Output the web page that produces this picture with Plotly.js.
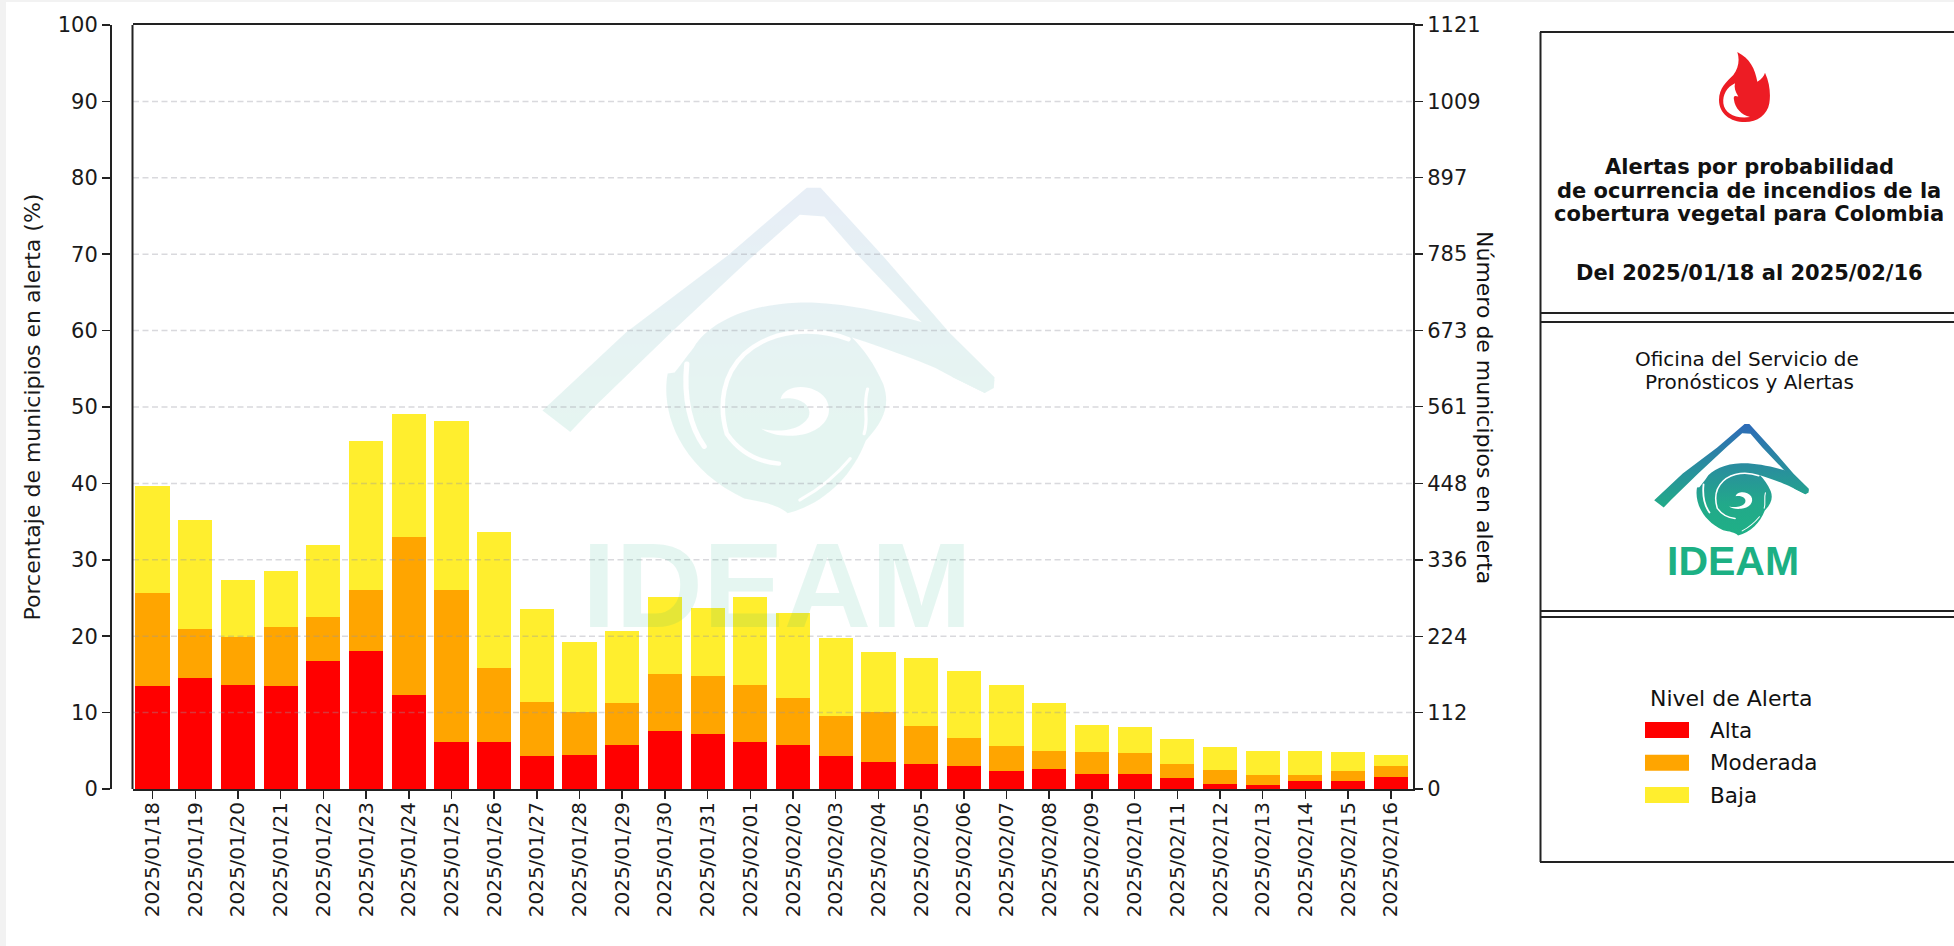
<!DOCTYPE html>
<html>
<head>
<meta charset="utf-8">
<script src="https://cdn.plot.ly/plotly-3.0.1.min.js"></script>
<style>html,body{margin:0;padding:0;background:#fff;overflow:hidden}#chart{width:1954px;height:946px}</style>
</head>
<body>
<div id="chart"></div>
<script>
const dates = ["2025/01/18","2025/01/19","2025/01/20","2025/01/21","2025/01/22","2025/01/23","2025/01/24","2025/01/25","2025/01/26","2025/01/27","2025/01/28","2025/01/29","2025/01/30","2025/01/31","2025/02/01","2025/02/02","2025/02/03","2025/02/04","2025/02/05","2025/02/06","2025/02/07","2025/02/08","2025/02/09","2025/02/10","2025/02/11","2025/02/12","2025/02/13","2025/02/14","2025/02/15","2025/02/16"];
const alta = [13.5,14.5,13.6,13.5,16.8,18.1,12.3,6.2,6.1,4.3,4.5,5.7,7.6,7.2,6.1,5.8,4.3,3.6,3.3,3.0,2.4,2.6,1.9,1.9,1.5,0.7,0.5,1.1,1.0,1.6];
const moderada = [12.2,6.5,6.3,7.7,5.7,7.9,20.7,19.9,9.7,7.1,5.6,5.6,7.5,7.6,7.5,6.1,5.2,6.5,4.9,3.7,3.2,2.4,2.9,2.8,1.8,1.8,1.3,0.7,1.4,1.4];
const baja = [14.0,14.2,7.5,7.4,9.5,19.6,16.1,22.1,17.9,12.2,9.2,9.4,10.0,8.9,11.5,11.1,10.3,7.8,8.9,8.8,8.0,6.2,3.6,3.4,3.2,3.0,3.2,3.2,2.5,1.5];
const pctTicks = [0,10,20,30,40,50,60,70,80,90,100];
const countTicks = [0,112,224,336,448,561,673,785,897,1009,1121];
const levelNames = ["Alta","Moderada","Baja"];
const levelColors = ["#ff0000","#ffa500","#ffee2e"];

const W = 1954, H = 946, L = 110, R = 1413, T = 25, B = 789;
const px = v => (v - L) / (R - L);
const py = v => (B - v) / (B - T);
const FONT = "DejaVu Sans";
const INK = "#222222";

function svgUri(s){ return "data:image/svg+xml;charset=utf-8," + encodeURIComponent(s); }

function logoSvg(){
  return `<svg xmlns="http://www.w3.org/2000/svg" width="660" height="500" viewBox="110 100 1320 995" preserveAspectRatio="none">
<defs>
<linearGradient id="g" x1="0" y1="100" x2="0" y2="1090" gradientUnits="userSpaceOnUse"><stop offset="0" stop-color="#2d69b8"/><stop offset="0.35" stop-color="#2a8aa0"/><stop offset="0.72" stop-color="#22a98a"/><stop offset="1" stop-color="#1fb086"/></linearGradient>
<mask id="m" maskUnits="userSpaceOnUse" x="0" y="0" width="1600" height="1200">
<rect x="0" y="0" width="1600" height="1200" fill="#fff"/>
<g fill="none" stroke="#000" stroke-linecap="round">
<path d="M535,640 C525,740 545,830 585,888" stroke-width="15"/>
<path d="M1000,565 C900,525 780,535 700,610 C640,670 625,760 650,850 C690,910 740,935 800,940" stroke-width="13"/>
<path d="M1055,715 C1040,770 1060,800 1045,850" stroke-width="9"/>
<path d="M1005,925 C970,970 920,1015 860,1050" stroke-width="9"/>
</g>
<path d="M805,745 C815,700 900,695 935,745 C965,800 915,850 850,855 C805,860 770,850 750,835 C790,845 860,845 885,800 C900,760 850,735 805,745Z" fill="#000"/>
</mask>
</defs>
<g mask="url(#m)" fill="url(#g)">
<path d="M120,780 L360,545 L650,315 L880,108 L920,108 L1100,315 L1290,545 L1420,680 L1418,712 L1392,727 L1300,680 L1225,530 L1030,315 L930,195 L860,190 L725,315 L490,545 L265,773 L200,845 Z"/>
<path d="M1240,522 C1100,480 960,450 850,455 C720,460 600,510 555,590 C540,610 520,640 500,665 L480,668 C460,780 510,950 700,1045 C750,1055 800,1065 825,1090 C930,1060 1010,980 1050,870 C1105,810 1120,760 1100,700 C1075,640 1040,590 1010,560 C1100,590 1190,625 1250,652 L1300,680 L1392,727 L1420,690 Z"/>
</g>
</svg>`;
}

function flameSvg(){
  return `<svg xmlns="http://www.w3.org/2000/svg" width="153" height="212" viewBox="597 155 153 212">
<path fill="#ed1c24" d="M652,155 C690,175 705,205 712,245 C725,238 732,228 735,218 C750,250 752,285 748,310 C742,345 712,367 675,367 C630,367 597,340 597,300 C597,265 620,245 640,225 C655,205 660,180 652,155 Z"/>
<path fill="#ffffff" d="M645,250 C620,262 608,285 610,310 C613,340 645,358 690,352 C665,345 645,325 642,300 C640,290 642,285 655,290 C645,275 642,262 645,250 Z"/>
</svg>`;
}

const traces = [alta, moderada, baja].map((vals, i) => ({
  type: "bar", name: levelNames[i], x: dates, y: vals,
  marker: {color: levelColors[i], line: {width: 0}}, width: 0.8,
  showlegend: false, xaxis: "x", yaxis: "y"
}));
traces.push({type: "scatter", mode: "none", x: [dates[0], dates[dates.length - 1]], y: [countTicks[0], countTicks[countTicks.length - 1]],
  xaxis: "x", yaxis: "y2", showlegend: false, hoverinfo: "skip"});

const shapes = [];
// Page edge
shapes.push({type:"rect", xref:"paper", yref:"paper", x0:px(0), x1:px(6), y0:py(0), y1:py(H), fillcolor:"#f2f2f2", line:{width:0}, layer:"below"});
shapes.push({type:"rect", xref:"paper", yref:"paper", x0:px(0), x1:px(W), y0:py(0), y1:py(2), fillcolor:"#f2f2f2", line:{width:0}, layer:"below"});
// Dashed gridlines above the bars
pctTicks.slice(1, -1).forEach(t => shapes.push({type:"line", xref:"paper", yref:"y", x0:px(133), x1:px(1412), y0:t, y1:t, layer:"above",
  line:{color:"rgba(150,150,160,0.36)", width:1.5, dash:"6px,3.5px"}}));
// Plot frame left edge
shapes.push({type:"line", xref:"paper", yref:"paper", x0:px(132.5), x1:px(132.5), y0:0, y1:1, line:{color:INK, width:2}});
// Panel outline
const panelLine = (x0,y0,x1,y1) => shapes.push({type:"line", xref:"paper", yref:"paper", x0:px(x0), x1:px(x1), y0:py(y0), y1:py(y1), line:{color:INK, width:2}});
panelLine(1540.5,32,1540.5,862);
[32,313,322,611,617,862].forEach(y => panelLine(1540,y,W+5,y));
// Legend swatches
[730,762.7,795].forEach((y,i) => shapes.push({type:"rect", xref:"paper", yref:"paper", x0:px(1645), x1:px(1689), y0:py(y-8), y1:py(y+8), fillcolor:levelColors[i], line:{width:0}}));

const note = (text, x, y, size, extra) => Object.assign({text, xref:"paper", yref:"paper", x:px(x), y:py(y), showarrow:false,
  xanchor:"center", yanchor:"middle", font:{family:FONT, size, color:"#111111"}}, extra || {});

const annotations = [
  note("Número de municipios en alerta", 1485, 407, 22, {textangle:90}),
  note("<b>Alertas por probabilidad</b>", 1749, 167, 21),
  note("<b>de ocurrencia de incendios de la</b>", 1749, 190.5, 21),
  note("<b>cobertura vegetal para Colombia</b>", 1749, 213.5, 21),
  note("<b>Del 2025/01/18 al 2025/02/16</b>", 1749, 272.5, 21),
  note("Oficina del Servicio de", 1747, 358.5, 20),
  note("Pronósticos y Alertas", 1749, 382, 20),
  note("Nivel de Alerta", 1731.5, 698, 22),
  note(levelNames[0], 1708, 730, 21.5, {xanchor:"left"}),
  note(levelNames[1], 1708, 762.7, 21.5, {xanchor:"left"}),
  note(levelNames[2], 1708, 795, 21.5, {xanchor:"left"}),
  note("<b>IDEAM</b>", 1733, 560.5, 41, {font:{family:"Liberation Sans", size:41, color:"#1cb084"}}),
  note("<b>IDEAM</b>", 777, 585, 121, {font:{family:"Liberation Sans", size:121, color:"#1cb084"}, opacity:0.11})
];

const img = (source, x0, y0, x1, y1, opacity) => ({source, xref:"paper", yref:"paper", x:px(x0), y:py(y0),
  sizex:px(x1)-px(x0), sizey:py(y0)-py(y1), xanchor:"left", yanchor:"top", sizing:"stretch", layer:"above", opacity:opacity});

const images = [
  img(svgUri(logoSvg()), 539, 185, 998, 515, 0.11),
  img(svgUri(logoSvg()), 1653, 423, 1810, 536, 1),
  img(svgUri(flameSvg()), 1719, 52, 1770, 122, 1)
];

const xTickFont = {family:FONT, size:20, color:"#1a1a1a"};
const yTickFont = {family:FONT, size:21, color:"#1a1a1a"};
const layout = {
  width: W, height: H, autosize: false,
  margin: {l:L, r:W-R, t:T, b:H-B, pad:0},
  paper_bgcolor: "#ffffff", plot_bgcolor: "rgba(0,0,0,0)",
  barmode: "stack", showlegend: false, hovermode: false,
  font: {family:FONT, size:20, color:"#1a1a1a"},
  xaxis: {type:"category", domain:[px(132.5),1], range:[-0.47,29.52], tickmode:"array", tickvals:dates, ticktext:dates, tickangle:-90,
    ticks:"outside", ticklen:8, tickwidth:1.5, tickcolor:INK, tickfont:xTickFont, ticklabelstandoff:-5,
    showline:true, linecolor:INK, linewidth:2, mirror:true, showgrid:false, zeroline:false, automargin:false, anchor:"y"},
  yaxis: {range:[0,100], tickmode:"array", tickvals:pctTicks, ticks:"outside", ticklen:8, tickwidth:1.5, tickcolor:INK, tickfont:yTickFont,
    showline:true, linecolor:INK, linewidth:1.5, showgrid:false, zeroline:false, automargin:false, anchor:"free", position:0, side:"left",
    title:{text:"Porcentaje de municipios en alerta (%)", font:{family:FONT, size:22, color:"#1a1a1a"}, standoff:9}},
  yaxis2: {range:[0,1121], tickmode:"array", tickvals:countTicks, ticks:"outside", ticklen:8, tickwidth:1.5, tickcolor:INK, tickfont:yTickFont,
    overlaying:"y", side:"right", anchor:"x", showline:true, linecolor:INK, linewidth:2, showgrid:false, zeroline:false, automargin:false},
  shapes, annotations, images
};
Plotly.newPlot("chart", traces, layout, {displayModeBar:false, staticPlot:true});
</script>
</body>
</html>
